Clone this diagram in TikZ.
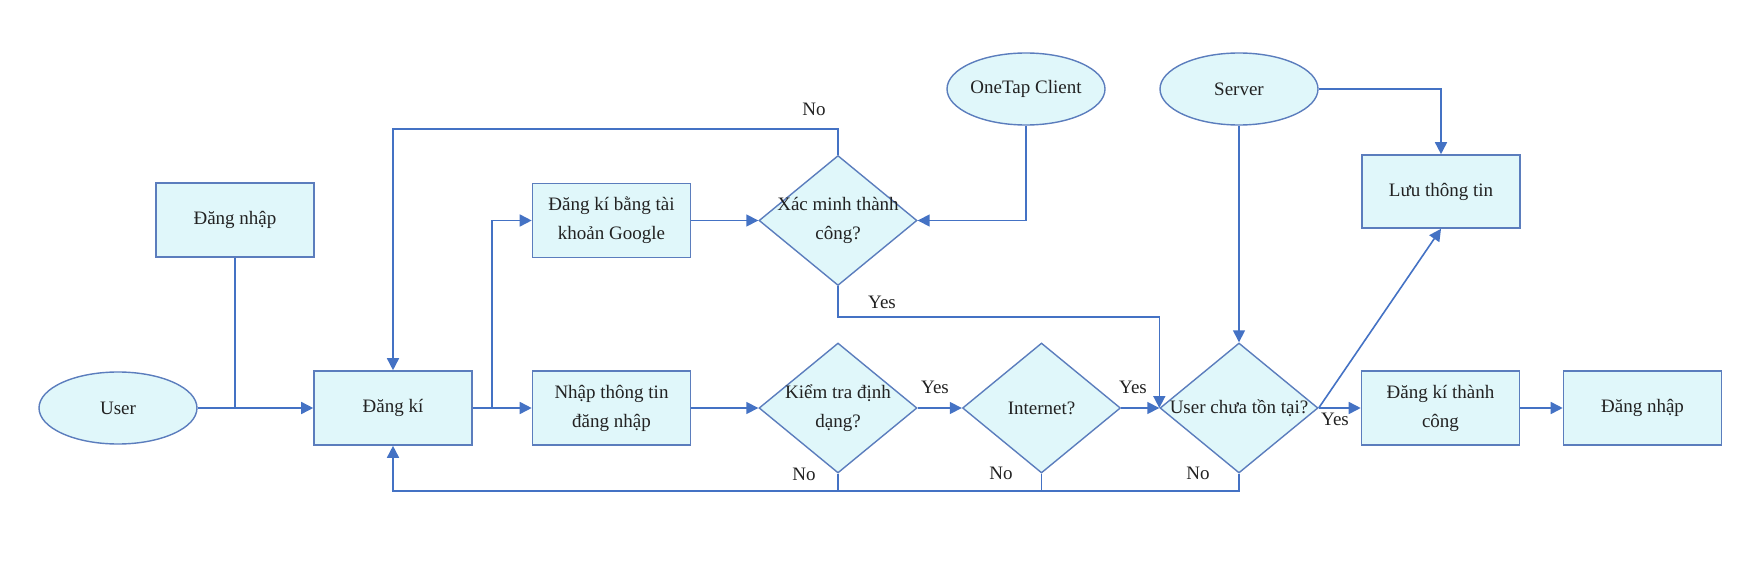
\documentclass[tikz,border=0pt]{standalone}
\usepackage{fontspec}
\setmainfont{Liberation Serif}
\usetikzlibrary{shapes.geometric,arrows.meta}
\definecolor{boxfill}{HTML}{E0F7FA}
\definecolor{boxline}{HTML}{5B7DBD}
\definecolor{conn}{HTML}{4472C4}
\definecolor{txtc}{HTML}{222222}
\tikzset{
  fnt/.style={font=\fontsize{19}{29}\selectfont, text=txtc},
  rbox/.style={draw=boxline, line width=1.6pt, fill=boxfill, minimum width=158pt, minimum height=74pt, inner sep=0pt, align=center, fnt},
  ell/.style={ellipse, draw=boxline, line width=1.4pt, fill=boxfill, minimum width=158pt, minimum height=72pt, inner sep=0pt, fnt},
  dia/.style={diamond, draw=boxline, line width=1.4pt, fill=boxfill, minimum width=158pt, minimum height=130pt, inner sep=0pt},
  dtxt/.style={align=center, fnt, inner sep=0pt},
  lbl/.style={fnt, inner sep=0pt},
  conline/.style={draw=conn, line width=1.6pt},
  arr/.style={conline, -{Triangle[length=12pt,width=12pt]}},
}
\begin{document}
\begin{tikzpicture}[x=1pt,y=-1pt]
\useasboundingbox (0,0) rectangle (1764,564);
% nodes
\node[ell] (user) at (118,408) {User};
\node[rbox] (dn1) at (235,220) {Đăng nhập};
\node[rbox] (dk) at (393,408) {Đăng kí};
\node[rbox] (gg) at (611.5,220.5) {Đăng kí bằng tài\\khoản Google};
\node[rbox] (nhap) at (611.5,408) {Nhập thông tin\\đăng nhập};
\node[dia] (xm) at (838,220.5) {};
\node[dtxt] (xmt) at (838,220.5) {Xác minh thành\\công?};
\node[dia] (kt) at (838,408) {};
\node[dtxt] (ktt) at (838,408) {Kiểm tra định\\dạng?};
\node[dia] (in) at (1041.5,408) {};
\node[dtxt] (intt) at (1041.5,408) {Internet?};
\node[dia] (uc) at (1239,408) {};
\node[dtxt] (uct) at (1239,408) {User chưa tồn tại?};
\node[ell] (ot) at (1026,89) {OneTap Client};
\node[ell] (sv) at (1239,89) {Server};
\node[rbox, minimum height=73pt] (luu) at (1441,191.5) {Lưu thông tin};
\node[rbox] (dktc) at (1440.5,408) {Đăng kí thành\\công};
\node[rbox] (dn2) at (1642.5,408) {Đăng nhập};
% labels
\node[lbl] (l1) at (814,109) {No};
\node[lbl] (l2) at (882,302) {Yes};
\node[lbl] (l3) at (935,387) {Yes};
\node[lbl] (l4) at (1133,387) {Yes};
\node[lbl] (l5) at (1335,419) {Yes};
\node[lbl] (l6) at (804,474) {No};
\node[lbl] (l7) at (1001,473) {No};
\node[lbl] (l8) at (1198,473) {No};
% helper coordinates
\coordinate (j1) at (235,408);
\coordinate (j2) at (492,408);
\coordinate (topy) at (0,129);
\coordinate (yesy) at (0,317);
\coordinate (boty) at (0,491);
% connectors
\draw[conline] (dn1.south) -- (j1);
\draw[arr] (user.east) -- (dk.west);
\draw[arr] (dk.east) -- (nhap.west);
\draw[arr] (j2) |- (gg.west);
\draw[arr] (gg.east) -- (xm.west);
\draw[arr] (ot.south) |- (xm.east);
\draw[arr] (xm.north) -- (xm.north |- topy) -| (dk.north);
\draw[arr] (xm.south) -- (xm.south |- yesy) -| (uc.west);
\draw[arr] (nhap.east) -- (kt.west);
\draw[arr] (kt.east) -- (in.west);
\draw[arr] (in.east) -- (uc.west);
\draw[arr] (sv.south) -- (uc.north);
\draw[arr] (sv.east) -| (luu.north);
\draw[arr] (uc.east) -- (luu.south);
\draw[arr] (uc.east) -- (dktc.west);
\draw[arr] (dktc.east) -- (dn2.west);
\draw[conline] (kt.south) -- (kt.south |- boty);
\draw[conline] (in.south) -- (in.south |- boty);
\draw[arr] (uc.south) -- (uc.south |- boty) -| (dk.south);
\end{tikzpicture}
\end{document}
